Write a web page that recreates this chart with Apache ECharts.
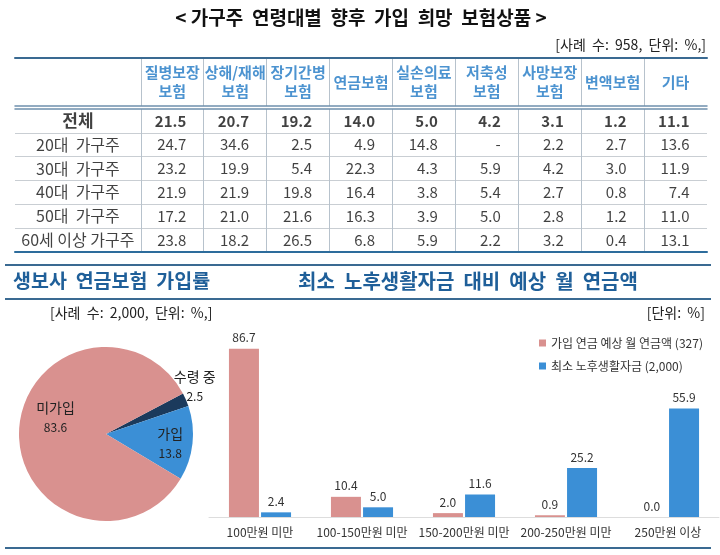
<!DOCTYPE html>
<html><head><meta charset="utf-8">
<script src="https://cdn.jsdelivr.net/npm/echarts@6/dist/echarts.min.js"></script>
<style>html,body{margin:0;padding:0;background:#fff}#c{width:720px;height:555px}</style>
</head><body><div id="c"></div>
<script>
// ---- table data ----
const tableColumns = ['질병보장\n보험','상해/재해\n보험','장기간병\n보험','연금보험','실손의료\n보험','저축성\n보험','사망보장\n보험','변액보험','기타'];
const tableRows = ['전체','20대  가구주','30대  가구주','40대  가구주','50대  가구주','60세 이상 가구주'];
const rowAll = [21.5,20.7,19.2,14.0,5.0,4.2,3.1,1.2,11.1];
const row20s = [24.7,34.6,2.5,4.9,14.8,null,2.2,2.7,13.6];
const row30s = [23.2,19.9,5.4,22.3,4.3,5.9,4.2,3.0,11.9];
const row40s = [21.9,21.9,19.8,16.4,3.8,5.4,2.7,0.8,7.4];
const row50s = [17.2,21.0,21.6,16.3,3.9,5.0,2.8,1.2,11.0];
const row60s = [23.8,18.2,26.5,6.8,5.9,2.2,3.2,0.4,13.1];
// ---- pie data ----
const pieNames = ['수령 중','가입','미가입'];
const pieValues = [2.5,13.8,83.6];
// ---- bar data ----
const barCategories = ['100만원 미만','100-150만원 미만','150-200만원 미만','200-250만원 미만','250만원 이상'];
const barSeriesNames = ['가입 연금 예상 월 연금액 (327)','최소 노후생활자금 (2,000)'];
const enrolledPension = [86.7,10.4,2.0,0.9,0.0];
const minLivingFund = [2.4,5.0,11.6,25.2,55.9];

const FONT = '"Noto Sans CJK KR", "Noto Sans", sans-serif';
const PINK = '#d9918f', BLUE = '#3b8fd6', NAVY = '#1b3a5c';
const RULE = '#3a6a92';
const tableValues = [rowAll,row20s,row30s,row40s,row50s,row60s];
const LABEL_SPAN = 2; // label column spans two units of the table axis
const NCOL = LABEL_SPAN + tableColumns.length;

const gridLine = '#b7c2cc';
const vColors = [];
for (let i = 0; i <= NCOL; i++) vColors.push(i >= LABEL_SPAN && i < NCOL ? gridLine : 'rgba(0,0,0,0)');
const hColors = [];
for (let i = 0; i <= tableRows.length; i++) hColors.push(i > 0 && i < tableRows.length ? '#c9ced3' : 'rgba(0,0,0,0)');

function tableX(gridIndex, position, lineWidth, color, split) {
  return {
    type: 'value', gridIndex, position, min: 0, max: NCOL, interval: 1,
    axisLabel: {show: false}, axisTick: {show: false},
    axisLine: {show: true, lineStyle: {color, width: lineWidth}},
    splitLine: {show: split, lineStyle: {color: vColors, width: 1}}
  };
}

const headerData = tableColumns.map((c, j) => ({name: c, value: [j + LABEL_SPAN + 0.5, 0]}));
const rowLabelData = tableRows.map((r, i) => ({
  name: r, value: [LABEL_SPAN / 2, i],
  label: {fontWeight: i === 0 ? 'bold' : 'normal', fontSize: i === 0 ? 17 : 16}
}));
const cellData = [];
tableValues.forEach((row, i) => {
  row.forEach((v, j) => {
    cellData.push({
      value: [j + LABEL_SPAN + 0.5, i, v],
      label: {fontWeight: i === 0 ? 'bold' : 'normal'}
    });
  });
});

const pieLabelShift = [[46, -29], [18, 5], [-4, -15]];

const chart = echarts.init(document.getElementById('c'));
chart.setOption({
  animation: false,
  backgroundColor: '#fff',
  textStyle: {fontFamily: FONT},
  grid: [
    {left: 15, right: 13, top: 58, height: 48},
    {left: 15, right: 13, top: 109, height: 143},
    {left: 209, right: 1, top: 323, bottom: 38}
  ],
  xAxis: [
    tableX(0, 'top', 2, RULE, true),
    tableX(0, 'bottom', 1.5, '#6f90ad', false),
    tableX(1, 'top', 1.5, '#6f90ad', true),
    tableX(1, 'bottom', 2, '#2d6c9c', false),
    {
      type: 'category', gridIndex: 2, data: barCategories,
      axisTick: {show: false},
      axisLine: {show: true, lineStyle: {color: '#dddddd', width: 1}},
      axisLabel: {fontSize: 12, color: '#333', margin: 9, interval: 0}
    }
  ],
  yAxis: [
    {type: 'category', gridIndex: 0, data: ['header'], show: false},
    {
      type: 'category', gridIndex: 1, data: tableRows, inverse: true,
      axisLine: {show: false}, axisTick: {show: false}, axisLabel: {show: false},
      splitLine: {show: true, interval: 0, lineStyle: {color: hColors, width: 1}}
    },
    {type: 'value', gridIndex: 2, min: 0, max: 100, show: false, splitLine: {show: false}}
  ],
  legend: {
    data: barSeriesNames, orient: 'vertical', left: 534, top: 332,
    itemWidth: 7, itemHeight: 7, itemGap: 11, icon: 'rect',
    textStyle: {fontSize: 12, color: '#333', fontFamily: FONT},
    selectedMode: false
  },
  series: [
    {
      type: 'scatter', xAxisIndex: 0, yAxisIndex: 0, symbolSize: 0, silent: true,
      data: headerData,
      label: {show: true, position: 'inside', formatter: '{b}', color: '#1f78c4',
        fontSize: 15, fontWeight: 'bold', lineHeight: 19, fontFamily: FONT}
    },
    {
      type: 'scatter', xAxisIndex: 2, yAxisIndex: 1, symbolSize: 0, silent: true,
      data: rowLabelData,
      label: {show: true, position: 'inside', formatter: '{b}', color: '#111', fontFamily: FONT}
    },
    {
      type: 'scatter', xAxisIndex: 2, yAxisIndex: 1, symbolSize: 0, silent: true,
      data: cellData,
      label: {show: true, position: 'inside', align: 'right', offset: [14, 0],
        fontSize: 15, color: '#111', fontFamily: FONT,
        formatter: p => p.value[2] == null ? '-' : p.value[2].toFixed(1)}
    },
    {
      type: 'pie', center: [106, 434], radius: 87, startAngle: 27.8, clockwise: true,
      silent: true,
      data: pieNames.map((n, i) => ({name: n, value: pieValues[i], itemStyle: {color: [NAVY, BLUE, PINK][i]}})),
      label: {show: true, position: 'inside', formatter: p => '{n|' + p.name + '}\n{v|' + p.value.toFixed(1) + '}',
        rich: {n: {fontSize: 14, color: '#222', lineHeight: 20, fontFamily: FONT},
               v: {fontSize: 12, color: '#222', lineHeight: 20, fontFamily: FONT}}},
      labelLine: {show: false},
      labelLayout: p => ({dx: pieLabelShift[p.dataIndex][0], dy: pieLabelShift[p.dataIndex][1]})
    },
    {
      type: 'bar', name: barSeriesNames[0], xAxisIndex: 4, yAxisIndex: 2,
      data: enrolledPension, barWidth: 30, barGap: '7%', itemStyle: {color: PINK}, silent: true,
      label: {show: true, position: 'top', distance: 5, fontSize: 12, color: '#333',
        formatter: p => p.value.toFixed(1)}
    },
    {
      type: 'bar', name: barSeriesNames[1], xAxisIndex: 4, yAxisIndex: 2,
      data: minLivingFund, barWidth: 30, barGap: '7%', itemStyle: {color: BLUE}, silent: true,
      label: {show: true, position: 'top', distance: 5, fontSize: 12, color: '#333',
        formatter: p => p.value.toFixed(1)}
    }
  ],
  graphic: [
    {type: 'text', x: 361, y: 18, style: {text: '< 가구주  연령대별  향후  가입  희망  보험상품 >',
      font: 'bold 19px ' + FONT, fill: '#111', textAlign: 'center', textVerticalAlign: 'middle'}},
    {type: 'text', x: 706, y: 45, style: {text: '[사례  수:  958,  단위:  %,]',
      font: '14px ' + FONT, fill: '#222', textAlign: 'right', textVerticalAlign: 'middle'}},
    {type: 'line', shape: {x1: 5, y1: 265, x2: 711, y2: 265}, style: {stroke: RULE, lineWidth: 2}},
    {type: 'line', shape: {x1: 5, y1: 299, x2: 711, y2: 299}, style: {stroke: RULE, lineWidth: 2}},
    {type: 'line', shape: {x1: 5, y1: 548, x2: 711, y2: 548}, style: {stroke: RULE, lineWidth: 2}},
    {type: 'text', x: 13, y: 281, style: {text: '생보사  연금보험  가입률',
      font: 'bold 19.5px ' + FONT, fill: '#1f5f99', textAlign: 'left', textVerticalAlign: 'middle'}},
    {type: 'text', x: 468, y: 281, style: {text: '최소  노후생활자금  대비  예상  월  연금액',
      font: 'bold 20px ' + FONT, fill: '#1f5f99', textAlign: 'center', textVerticalAlign: 'middle'}},
    {type: 'text', x: 50, y: 313, style: {text: '[사례  수:  2,000,  단위:  %,]',
      font: '14px ' + FONT, fill: '#222', textAlign: 'left', textVerticalAlign: 'middle'}},
    {type: 'text', x: 705, y: 313, style: {text: '[단위:  %]',
      font: '14px ' + FONT, fill: '#222', textAlign: 'right', textVerticalAlign: 'middle'}}
  ]
});
</script></body></html>
